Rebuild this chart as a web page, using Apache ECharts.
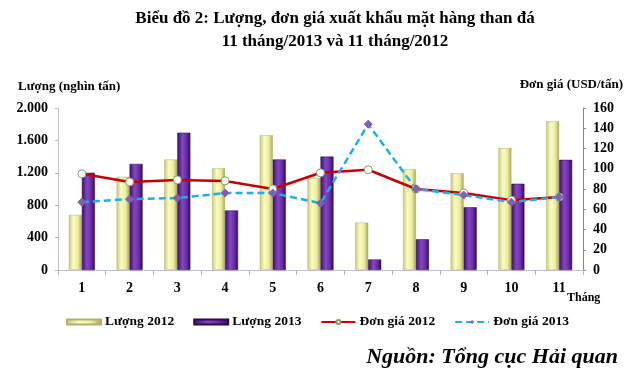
<!DOCTYPE html>
<html>
<head>
<meta charset="utf-8">
<script src="https://cdn.jsdelivr.net/npm/echarts@6/dist/echarts.min.js"></script>
<style>
  html, body { margin: 0; padding: 0; background: #fff; }
  #chart { width: 624px; height: 376px; }
</style>
</head>
<body>
<div id="chart"></div>
<script>
const months = ['1', '2', '3', '4', '5', '6', '7', '8', '9', '10', '11'];
const luong2012 = [680, 1150, 1365, 1255, 1665, 1135, 585, 1245, 1195, 1505, 1835];
const luong2013 = [1200, 1310, 1695, 735, 1365, 1400, 130, 380, 775, 1065, 1360];
const donGia2012 = [95, 87, 89, 88, 80, 96, 99, 80, 76, 69, 72];
const donGia2013 = [67, 70, 71, 76, 76, 66, 144, 80, 74, 67, 72];

const serif = 'Liberation Serif';
const chart = echarts.init(document.getElementById('chart'));

// thousands with dot separator, like 1.600
const fmtVN = v => String(v).replace(/\B(?=(\d{3})+(?!\d))/g, '.');

const axisLineStyle = { color: '#b8b0c8', width: 1, type: 'dotted' };
const tickFont = { fontFamily: serif, fontSize: 14, fontWeight: 'bold', color: '#000' };

const yellowBar = new echarts.graphic.LinearGradient(0, 0, 1, 0, [
  { offset: 0, color: '#c9c97a' },
  { offset: 0.35, color: '#fbfbc4' },
  { offset: 0.7, color: '#ecec9c' },
  { offset: 1, color: '#a4a45c' }
]);
const purpleBar = new echarts.graphic.LinearGradient(0, 0, 1, 0, [
  { offset: 0, color: '#3e1066' },
  { offset: 0.4, color: '#8446c2' },
  { offset: 0.7, color: '#6a2ea6' },
  { offset: 1, color: '#340a58' }
]);

const option = {
  animation: false,
  title: {
    text: 'Biểu đồ 2: Lượng, đơn giá xuất khẩu mặt hàng than đá\n11 tháng/2013 và 11 tháng/2012',
    left: 330,
    top: 2,
    textAlign: 'center',
    textStyle: { fontFamily: serif, fontSize: 17, fontWeight: 'bold', color: '#000', lineHeight: 23 }
  },
  legend: {
    left: 61,
    top: 310,
    itemGap: 19,
    itemWidth: 34,
    itemHeight: 5,
    textStyle: { fontFamily: serif, fontSize: 13.5, fontWeight: 'bold', color: '#000', padding: [0, 0, 0, -1] },
    data: [
      { name: 'Lượng 2012', icon: 'rect' },
      { name: 'Lượng 2013', icon: 'rect' },
      { name: 'Đơn giá 2012' },
      { name: 'Đơn giá 2013' }
    ]
  },
  grid: { left: 58, right: 41, top: 108, bottom: 106 },
  xAxis: {
    type: 'category',
    data: months,
    axisLine: { lineStyle: axisLineStyle },
    axisTick: { show: true, lineStyle: { color: '#b8b0c8' } },
    axisLabel: Object.assign({ margin: 11 }, tickFont)
  },
  yAxis: [
    {
      type: 'value',
      min: 0, max: 2000, interval: 400,
      axisLine: { show: true, lineStyle: axisLineStyle },
      axisTick: { show: true, length: 3, lineStyle: { color: '#b8b0c8' } },
      splitLine: { show: false },
      axisLabel: Object.assign({ margin: 10, formatter: fmtVN }, tickFont)
    },
    {
      type: 'value',
      min: 0, max: 160, interval: 20,
      axisLine: { show: true, lineStyle: { color: '#888', width: 1 } },
      axisTick: { show: true, length: 3, lineStyle: { color: '#888' } },
      splitLine: { show: false },
      axisLabel: Object.assign({ margin: 10 }, tickFont)
    }
  ],
  graphic: [
    { type: 'text', left: 18, top: 80, style: { text: 'Lượng (nghìn tấn)', font: 'bold 13px "Liberation Serif"', fill: '#000' } },
    { type: 'text', right: 1, top: 78, style: { text: 'Đơn giá (USD/tấn)', font: 'bold 13px "Liberation Serif"', fill: '#000' } },
    { type: 'text', left: 567, top: 292, style: { text: 'Tháng', font: 'bold 12px "Liberation Serif"', fill: '#000' } },
    { type: 'text', right: 6, top: 346, style: { text: 'Nguồn: Tổng cục Hải quan', font: 'italic bold 22px "Liberation Serif"', fill: '#000' } }
  ],
  series: [
    {
      name: 'Lượng 2012',
      type: 'bar',
      data: luong2012,
      barWidth: 13,
      barGap: '0%',
      itemStyle: { color: yellowBar, borderColor: '#b0b070', borderWidth: 0.5 }
    },
    {
      name: 'Lượng 2013',
      type: 'bar',
      data: luong2013,
      barWidth: 13,
      itemStyle: { color: purpleBar, borderColor: '#2e0850', borderWidth: 0.5 }
    },
    {
      name: 'Đơn giá 2012',
      type: 'line',
      yAxisIndex: 1,
      data: donGia2012,
      symbol: 'circle',
      symbolSize: 8,
      lineStyle: { color: '#cc0000', width: 2.5 },
      itemStyle: { color: '#ffffff', borderColor: '#8a9a70', borderWidth: 1 }
    },
    {
      name: 'Đơn giá 2013',
      type: 'line',
      yAxisIndex: 1,
      data: donGia2013,
      symbol: 'diamond',
      symbolSize: 8,
      lineStyle: { color: '#1ab0ec', width: 2.5, type: [7, 4] },
      itemStyle: { color: '#8060b0', borderColor: '#8060b0' }
    }
  ]
};
chart.setOption(option);
</script>
</body>
</html>
